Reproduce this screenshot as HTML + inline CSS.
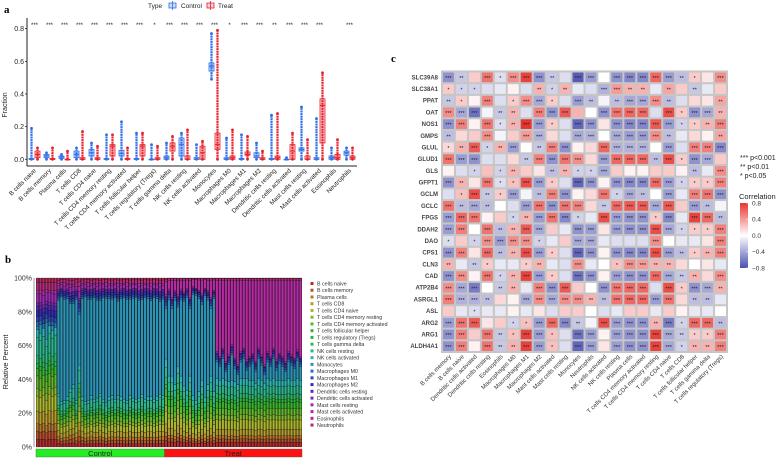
<!DOCTYPE html>
<html><head><meta charset="utf-8"><style>
body{margin:0;background:#fff;}
svg{display:block;font-family:"Liberation Sans",sans-serif;}
</style></head><body>
<svg id="fig" width="784" height="459" viewBox="0 0 784 459" xmlns="http://www.w3.org/2000/svg">
<text x="4" y="13" font-family="Liberation Serif" font-weight="bold" font-size="11">a</text>
<text x="5" y="263" font-family="Liberation Serif" font-weight="bold" font-size="11">b</text>
<text x="391" y="62" font-family="Liberation Serif" font-weight="bold" font-size="11">c</text>
<g id="pa"></g>
<g id="pb"></g>
<g id="pc"></g>
</svg>
<script>
const NS="http://www.w3.org/2000/svg";
function mk(p,t,a){const e=document.createElementNS(NS,t);for(const k in a)e.setAttribute(k,a[k]);p.appendChild(e);return e;}
function tx(p,x,y,s,a){const e=mk(p,'text',Object.assign({x:x,y:y},a||{}));e.textContent=s;return e;}

// ---------- Panel a data ----------
const cellTypes=["B cells naive","B cells memory","Plasma cells","T cells CD8","T cells CD4 naive","T cells CD4 memory resting","T cells CD4 memory activated","T cells follicular helper","T cells regulatory (Tregs)","T cells gamma delta","NK cells resting","NK cells activated","Monocytes","Macrophages M0","Macrophages M1","Macrophages M2","Dendritic cells resting","Dendritic cells activated","Mast cells resting","Mast cells activated","Eosinophils","Neutrophils"];
const ctrlMed=[0,0.02,0.015,0.03,0.04,0,0.035,0,0,0.01,0.09,0,0.57,0,0,0.02,0,0,0.06,0,0.01,0.04];
const ctrlQ1=[0,0.01,0.005,0.01,0.02,0,0.02,0,0,0,0.02,0,0.54,0,0,0.01,0,0,0.05,0,0,0.025];
const ctrlQ3=[0.005,0.03,0.02,0.05,0.06,0.005,0.055,0.005,0,0.02,0.13,0.01,0.59,0.01,0.005,0.04,0.005,0,0.07,0.01,0.02,0.05];
const ctrlMin=[0,0,0,0,0,0,0,0,0,0,0,0,0.49,0,0,0,0,0,0,0,0,0];
const ctrlMax=[0.19,0.04,0.03,0.07,0.1,0.15,0.23,0.16,0.09,0.1,0.16,0.09,0.77,0.13,0.15,0.1,0.27,0.01,0.32,0.25,0.07,0.07];
const trtMed=[0.03,0,0,0,0,0.08,0,0.08,0,0.08,0,0.04,0.09,0.01,0.03,0,0.01,0.05,0,0.33,0.01,0.01];
const trtQ1=[0.01,0,0,0,0,0.02,0,0.02,0,0.05,0,0,0.06,0,0.025,0,0,0,0,0.1,0,0];
const trtQ3=[0.05,0.005,0,0.01,0.01,0.09,0.005,0.09,0.01,0.1,0.02,0.08,0.16,0.02,0.045,0.01,0.02,0.09,0.02,0.37,0.03,0.02];
const trtMin=[0,0,0,0,0,0,0,0,0,0,0,0,0,0,0,0,0,0,0,0,0,0];
const trtMax=[0.07,0.07,0.05,0.17,0.08,0.15,0.07,0.16,0.08,0.14,0.18,0.11,0.79,0.18,0.14,0.05,0.28,0.16,0.12,0.53,0.12,0.07];
const sigA=["***","***","***","***","***","***","***","***","*","***","***","***","***","*","***","***","**","***","***","***","","***"];
const yTicksA=[0,0.2,0.4,0.6,0.8];

(function(){
const g=document.getElementById('pa');
const x0=27,x1=357,yTop=18,yBot=166;
const ya=v=>159.3-163.3*v;
const step=(x1-x0)/cellTypes.length;
const xc=i=>x0+step*(i+0.5);
mk(g,'line',{x1:x0,y1:yTop,x2:x0,y2:yBot,stroke:'#222','stroke-width':1});
const xa=mk(g,'line',{x1:x0,y1:yBot,x2:x1,y2:yBot,stroke:'#222','stroke-width':1});

yTicksA.forEach(v=>{
  mk(g,'line',{x1:x0-2,y1:ya(v),x2:x0,y2:ya(v),stroke:'#222','stroke-width':0.8});
  const t=tx(g,x0-3,ya(v)+2.5,v.toFixed(1),{'font-size':7,'text-anchor':'end',fill:'#222'});
  
});
const yt=tx(g,0,0,'Fraction',{'font-size':7,'text-anchor':'middle',transform:'translate(7,105) rotate(-90)',fill:'#222'});

function box(i,off,col,fill,med,q1,q3,mn,mx,name){
  const cx=xc(i)+off,w=5;
  const bg=mk(g,'g',{});
  
  mk(bg,'line',{x1:cx,y1:ya(mn),x2:cx,y2:ya(mx),stroke:col,'stroke-width':2.2,'stroke-dasharray':'2 0.6'});
  mk(bg,'rect',{x:cx-w/2,y:ya(q3),width:w,height:Math.max(0.6,ya(q1)-ya(q3)),fill:fill,stroke:col,'stroke-width':0.8});
  mk(bg,'line',{x1:cx-w/2,y1:ya(med),x2:cx+w/2,y2:ya(med),stroke:col,'stroke-width':1});
  mk(bg,'circle',{cx:cx,cy:ya(mx),r:1.4,fill:col});
  mk(bg,'circle',{cx:cx,cy:ya(mn),r:1.4,fill:col});
}
cellTypes.forEach((c,i)=>{
  box(i,-3,'#2f6fe8','rgba(47,111,232,0.25)',ctrlMed[i],ctrlQ1[i],ctrlQ3[i],ctrlMin[i],ctrlMax[i],'box-control');
  box(i,3,'#e8202a','rgba(232,32,42,0.2)',trtMed[i],trtQ1[i],trtQ3[i],trtMin[i],trtMax[i],'box-treat');
  const s=tx(g,xc(i),27,sigA[i],{'font-size':6,'text-anchor':'middle',fill:'#222'});
  
  const l=tx(g,0,0,c,{'font-size':6.3,'text-anchor':'end',fill:'#222',transform:`translate(${xc(i)+2},${yBot+5}) rotate(-45)`});
  
});
// legend
const lg=mk(g,'g',{});

tx(lg,148,8,'Type',{'font-size':6.5,fill:'#222'});
mk(lg,'rect',{x:169,y:3,width:7,height:5,fill:'rgba(47,111,232,0.25)',stroke:'#2f6fe8','stroke-width':0.8});
mk(lg,'line',{x1:172.5,y1:1,x2:172.5,y2:10,stroke:'#2f6fe8','stroke-width':0.8});
tx(lg,181,8,'Control',{'font-size':6.5,fill:'#222'});
mk(lg,'rect',{x:207,y:3,width:7,height:5,fill:'rgba(232,32,42,0.2)',stroke:'#e8202a','stroke-width':0.8});
mk(lg,'line',{x1:210.5,y1:1,x2:210.5,y2:10,stroke:'#e8202a','stroke-width':0.8});
tx(lg,218,8,'Treat',{'font-size':6.5,fill:'#222'});
})();

// ---------- Panel b data ----------
const ctrlMono=[0.02,0.05,0.0,0.1,0.0,0.03,0.0,0.55,0.62,0.6,0.58,0.5,0.48,0.6,0.3,0.58,0.62,0.6,0.57,0.6,0.58,0.55,0.6,0.62,0.58,0.57,0.6,0.56,0.58,0.6,0.6,0.57,0.59,0.6,0.58,0.56,0.6,0.58,0.57,0.6,0.58,0.55,0.57];
const ctrlMast=[0.02,0.02,0.03,0.02,0.01,0.02,0.02,0.01,0.01,0.02,0.01,0.02,0.01,0.02,0.03,0.01,0.01,0.02,0.01,0.01,0.02,0.01,0.01,0.02,0.01,0.01,0.01,0.02,0.01,0.01,0.02,0.01,0.01,0.01,0.02,0.01,0.01,0.01,0.02,0.01,0.01,0.02,0.01];
const trtMono=[0.3,0.45,0.4,0.5,0.35,0.45,0.5,0.55,0.4,0.6,0.62,0.55,0.45,0.6,0.5,0.4,0.55,0.1,0.08,0.12,0.05,0.1,0.15,0.08,0.06,0.1,0.12,0.05,0.08,0.1,0.07,0.12,0.09,0.05,0.1,0.08,0.12,0.06,0.1,0.08,0.05,0.1,0.09,0.07,0.11,0.08];
const trtMast=[0.08,0.05,0.1,0.06,0.08,0.05,0.07,0.05,0.1,0.04,0.05,0.06,0.08,0.05,0.06,0.1,0.06,0.42,0.45,0.4,0.48,0.44,0.38,0.46,0.5,0.42,0.4,0.47,0.45,0.43,0.48,0.4,0.44,0.5,0.42,0.45,0.4,0.47,0.43,0.45,0.48,0.42,0.44,0.46,0.41,0.45];
const baseCtrl=[0.05,0.05,0.05,0.08,0.1,0.05,0.08,0.05,0.03,0.05,0.12,0.05,0,0.03,0.03,0.04,0.03,0.02,0.06,0,0.05,0.03];
const baseTrt=[0.06,0.04,0.04,0.08,0.12,0.06,0.08,0.08,0.04,0.06,0.1,0.08,0,0.03,0.03,0.03,0.01,0.01,0.02,0,0.02,0.01];
const yTicksB=[0,20,40,60,80,100];

(function(){
const g=document.getElementById('pb');
const x0=36,x1=302,yT=278,yB=447;
const n=ctrlMono.length+trtMono.length;
const bw=(x1-x0)/n;
const yb=v=>yB-(yB-yT)*v;
const colr=i=>`hsl(${(i*16.2)%360},62%,44%)`;
mk(g,'rect',{x:x0,y:yT,width:x1-x0,height:yB-yT,fill:'#111'});
const samples=[];
ctrlMono.forEach((m,i)=>samples.push([m,ctrlMast[i],baseCtrl]));
trtMono.forEach((m,i)=>samples.push([m,trtMast[i],baseTrt]));
samples.forEach((s,k)=>{
  const [mono,mast,base]=s;
  const rem=1-mono-mast;
  const bsum=base.reduce((a,b)=>a+b,0);
  let acc=0;
  const bar=mk(g,'g',{});
  
  for(let i=0;i<22;i++){
    let f=i===12?mono:i===19?mast:base[i]/bsum*rem;
    if(f<=0)continue;
    mk(bar,'rect',{x:x0+k*bw+0.25,y:yb(acc+f),width:bw-0.5,height:(yB-yT)*f,fill:colr(i),stroke:'#111','stroke-width':0.25});
    acc+=f;
  }
});
mk(g,'line',{x1:x0-2,y1:yT,x2:x0-2,y2:yB,stroke:'#999','stroke-width':1});
yTicksB.forEach(v=>{
  const t=tx(g,x0-4,yb(v/100)+2.5,v+'%',{'font-size':7,'text-anchor':'end',fill:'#333'});
  
});
const yt=tx(g,0,0,'Relative Percent',{'font-size':7.5,'text-anchor':'middle',transform:'translate(8,362) rotate(-90)',fill:'#222'});

const xs=x0+bw*ctrlMono.length;
const gc=mk(g,'rect',{x:x0,y:449,width:xs-x0,height:8,fill:'#22ee22',stroke:'#555','stroke-width':0.4});

const gt=mk(g,'rect',{x:xs,y:449,width:x1-xs,height:8,fill:'#ff1111',stroke:'#555','stroke-width':0.4});

tx(g,(x0+xs)/2,456,'Control',{'font-size':7.5,'text-anchor':'middle',fill:'#222'});
tx(g,(xs+x1)/2,456,'Treat',{'font-size':7.5,'text-anchor':'middle',fill:'#222'});
cellTypes.forEach((c,i)=>{
  const y=284+i*6.74;
  const le=mk(g,'g',{});
  
  mk(le,'rect',{x:310.5,y:y-2,width:3,height:3,fill:colr(i)});
  tx(le,317,y+1.5,c,{'font-size':5.3,fill:'#333'});
});
})();

// ---------- Panel c data ----------
const genes=["SLC39A8","SLC38A1","PPAT","OAT","NOS1","GMPS","GLUL","GLUD1","GLS","GFPT1","GCLM","GCLC","FPGS","DDAH2","DAO","CPS1","CLN3","CAD","ATP2B4","ASRGL1","ASL","ARG2","ARG1","ALDH4A1"];
const immuneCols=["B cells memory","B cells naive","Dendritic cells activated","Dendritic cells resting","Eosinophils","Macrophages M0","Macrophages M1","Macrophages M2","Mast cells activated","Mast cells resting","Monocytes","Neutrophils","NK cells activated","NK cells resting","Plasma cells","T cells CD4 memory activated","T cells CD4 memory resting","T cells CD4 naive","T cells CD8","T cells follicular helper","T cells gamma delta","T cells regulatory (Tregs)"];
const corrVals=[
[-0.5,-0.25,0.2,0.55,-0.15,0.45,0.75,-0.5,-0.25,-0.15,-0.75,-0.45,0,-0.5,-0.55,-0.55,0.6,-0.45,-0.3,0.2,0.1,0.45],
[0.2,-0.2,-0.2,-0.15,-0.1,0.05,-0.15,0.3,-0.2,0.3,-0.1,-0.15,-0.35,0.4,0.3,0.3,-0.1,0.35,0.2,-0.25,-0.1,0.2],
[-0.25,0.2,0.05,0.5,-0.15,0.2,0.45,-0.4,0.2,-0.15,-0.45,-0.3,-0.05,-0.3,-0.4,-0.4,0.45,-0.3,-0.15,0.15,0.1,0.35],
[0.45,-0.4,-0.65,-0.05,-0.25,0.3,-0.15,0.5,-0.5,0.65,0.3,0,-0.5,0.55,0.6,0.6,-0.15,0.7,0.2,-0.5,-0.4,0.3],
[-0.5,0.5,0.05,0.55,-0.15,0.3,0.8,-0.45,0.2,-0.15,-0.7,-0.5,0.1,-0.5,-0.55,-0.55,0.65,-0.45,-0.2,0.2,0.3,0.5],
[-0.3,0.15,0.2,0.45,-0.05,0.2,0.4,-0.35,0.15,-0.15,-0.4,-0.35,0,-0.4,-0.45,-0.45,0.45,-0.3,-0.1,0.15,0.05,0.35],
[0.15,0.3,0.65,-0.2,0.3,-0.45,0,-0.25,0.5,-0.5,0.05,0.15,0.6,-0.35,-0.35,-0.35,0,-0.45,-0.15,0.5,0.5,-0.55],
[0.55,-0.45,-0.5,-0.15,-0.15,0.15,-0.25,0.5,-0.5,0.55,0.45,0.15,-0.45,0.6,0.6,0.6,-0.3,0.7,0.2,-0.5,-0.4,0.2],
[0.05,-0.15,-0.2,0.25,-0.2,0.3,0.2,0.1,-0.3,0.3,-0.2,-0.2,-0.4,0.2,0.05,0.05,0.2,0.2,0.05,-0.3,-0.1,0.45],
[-0.5,0.3,0.1,0.55,-0.15,0.25,0.7,-0.45,0.2,-0.15,-0.7,-0.5,0.05,-0.5,-0.55,-0.55,0.6,-0.45,-0.2,0.2,0.2,0.5],
[-0.15,0.25,0.7,-0.25,0.2,-0.45,-0.05,-0.3,0.5,-0.5,0.05,0.15,0.55,-0.2,-0.4,-0.3,0,-0.45,-0.1,0.5,0.55,-0.5],
[0.55,-0.3,-0.4,-0.3,0,-0.15,-0.45,0.55,-0.5,0.55,0.5,0.15,-0.25,0.6,0.65,0.65,-0.4,0.65,0.2,-0.45,-0.3,-0.05],
[-0.45,0.6,0.55,0.05,0.2,-0.2,0.3,-0.45,0.55,-0.55,-0.2,-0.1,0.7,-0.45,-0.5,-0.5,0.2,-0.55,-0.1,0.75,0.6,-0.3],
[-0.45,0.5,0,0.55,-0.3,0.3,0.65,-0.4,0.2,-0.1,-0.5,-0.45,0.1,-0.45,-0.5,-0.5,0.7,-0.4,-0.2,0.2,0.2,0.5],
[-0.15,0.2,-0.2,0.45,-0.45,0.45,0.45,-0.2,-0.1,0.2,-0.4,-0.4,-0.1,-0.15,-0.15,-0.15,0.45,0,-0.1,-0.1,0.1,0.5],
[-0.5,0.5,0.1,0.6,-0.3,0.3,0.7,-0.45,0.2,-0.15,-0.7,-0.5,0.05,-0.5,-0.55,-0.55,0.7,-0.45,-0.3,0.2,0.3,0.5],
[0.3,-0.1,-0.25,0.2,-0.1,-0.1,0.2,0.3,-0.1,-0.15,0.45,-0.1,0,0.25,0.45,0.4,0.3,0.3,0.15,0,0.1,-0.1],
[-0.5,0.45,0.05,0.55,-0.2,0.3,0.75,-0.45,0.2,-0.15,-0.65,-0.5,0.05,-0.45,-0.5,-0.5,0.6,-0.4,-0.25,0.3,0.15,0.45],
[0.45,-0.4,-0.6,0,-0.25,0.3,-0.1,0.5,-0.5,0.65,0.2,0,-0.5,0.55,0.6,0.6,-0.15,0.7,0.2,-0.5,-0.4,0.3],
[0.5,-0.35,-0.35,-0.3,0.15,0.05,-0.4,0.45,-0.4,0.45,0.45,0.3,-0.3,0.55,0.6,0.6,-0.45,0.55,0.15,-0.3,-0.3,-0.1],
[0.2,-0.1,-0.15,-0.1,-0.1,0.05,-0.1,0.1,-0.15,0.2,0.2,0,-0.15,-0.1,0.2,0.2,-0.1,0.2,0.05,-0.1,-0.1,0],
[-0.45,0.55,0.65,0.1,0.2,-0.2,0.25,-0.45,0.6,-0.55,-0.25,-0.05,0.7,-0.45,-0.5,-0.5,0.3,-0.6,-0.2,0.6,0.6,-0.3],
[-0.5,0.5,0.2,0.55,-0.25,0.25,0.75,-0.45,0.25,-0.15,-0.65,-0.45,0.05,-0.45,-0.5,-0.5,0.75,-0.4,-0.25,0.2,0.2,0.5],
[-0.5,0.5,0.05,0.55,-0.25,0.3,0.75,-0.45,0.25,-0.15,-0.7,-0.45,0.1,-0.45,-0.5,-0.5,0.75,-0.4,-0.2,0.3,0.3,0.5]];
const corrStars=[
"3,2,0,3,1,3,3,3,2,0,3,3,0,3,3,3,3,3,2,1,0,3",
"1,1,1,0,0,0,0,2,1,2,0,0,3,3,2,2,0,2,0,2,0,0",
"2,1,0,3,0,1,3,3,1,0,3,2,0,2,3,3,3,2,0,0,0,2",
"3,3,3,0,2,2,0,3,3,3,0,0,3,3,3,3,0,3,1,3,3,2",
"3,3,0,3,1,2,3,3,1,0,3,3,0,3,3,3,3,3,1,1,2,3",
"2,0,0,3,0,0,3,3,0,0,3,3,0,3,3,3,3,2,0,0,0,2",
"1,2,3,1,2,3,0,2,3,3,0,0,3,3,3,3,0,3,0,3,3,3",
"3,3,3,0,0,0,2,3,3,3,3,0,3,3,3,3,2,3,1,3,3,0",
"0,0,1,0,1,2,0,0,2,2,1,1,3,0,0,0,0,0,0,2,0,3",
"3,2,0,3,1,1,3,3,1,0,3,3,0,3,3,3,3,3,1,1,1,3",
"0,1,3,2,1,3,0,2,3,3,0,0,3,1,3,2,0,3,0,3,3,3",
"3,2,3,2,0,0,3,3,3,3,3,0,2,3,3,3,3,3,0,3,2,0",
"3,3,3,0,0,1,2,3,3,3,1,0,3,3,3,3,1,3,0,3,3,2",
"3,3,0,3,2,2,3,3,0,0,3,3,0,3,3,3,3,3,1,1,1,3",
"1,0,1,3,3,3,3,1,0,0,3,3,0,0,0,0,3,0,0,0,0,3",
"3,3,0,3,2,2,3,3,1,0,3,3,0,3,3,3,3,3,2,1,2,3",
"2,0,2,1,0,0,1,2,0,0,3,0,0,1,3,3,2,2,0,0,0,0",
"3,3,0,3,1,2,3,3,1,0,3,3,0,3,3,3,3,3,2,2,0,3",
"3,3,3,0,2,2,0,3,3,3,0,0,3,3,3,3,0,3,1,3,3,2",
"3,3,3,2,0,0,3,3,3,3,3,2,2,3,3,3,3,3,0,2,2,0",
"0,0,1,0,0,0,0,0,0,0,0,0,0,0,0,0,0,0,0,0,0,0",
"3,3,3,0,0,1,1,3,3,3,2,0,3,3,3,3,2,3,1,3,3,2",
"3,3,0,3,2,1,3,3,1,0,3,3,0,3,3,3,3,3,2,1,1,3",
"3,3,0,3,2,2,3,3,1,0,3,3,0,3,3,3,3,3,1,2,2,3"];
const legendTicksC=[0.8,0.4,0,-0.4,-0.8];

(function(){
const g=document.getElementById('pc');
const x0=442,x1=727,y0=71.5,y1=352;
const cw=(x1-x0)/immuneCols.length, ch=(y1-y0)/genes.length;
function col(v){
  const t=Math.max(-1,Math.min(1,v/0.8));
  const w=[255,255,255];
  const c=t>=0?[232,52,46]:[76,80,176];
  const a=Math.abs(t);
  return `rgb(${Math.round(w[0]+(c[0]-w[0])*a)},${Math.round(w[1]+(c[1]-w[1])*a)},${Math.round(w[2]+(c[2]-w[2])*a)})`;
}
mk(g,'rect',{x:x0-1,y:y0-1,width:x1-x0+2,height:y1-y0+2,fill:'#c6c6c6'});
genes.forEach((gn,r)=>{
  const st=corrStars[r].split(',').map(Number);
  const l=tx(g,x0-4,y0+ch*(r+0.5)+2,gn,{'font-size':6,'font-weight':'bold','text-anchor':'end',fill:'#444'});
  
  immuneCols.forEach((c,k)=>{
    const cell=mk(g,'rect',{x:x0+k*cw+1,y:y0+r*ch+1,width:cw-2,height:ch-2,fill:col(corrVals[r][k])});
    
    if(st[k]>0){tx(g,x0+(k+0.5)*cw,y0+(r+0.5)*ch+2.6,'*'.repeat(st[k]),{'font-size':5.5,'text-anchor':'middle',fill:'#222'});}
  });
});
immuneCols.forEach((c,k)=>{
  const l=tx(g,0,0,c,{'font-size':6,'text-anchor':'end',fill:'#333',transform:`translate(${x0+(k+0.5)*cw+3},${y1+5}) rotate(-45)`});
  
});
const lg=mk(g,'g',{});

tx(lg,740,160,'***  p<0.001',{'font-size':7,fill:'#222'});
tx(lg,740,169,'**   p<0.01',{'font-size':7,fill:'#222'});
tx(lg,740,178,' *   p<0.05',{'font-size':7,fill:'#222'});
const cb=mk(g,'g',{});

tx(cb,739,199,'Correlation',{'font-size':7.5,fill:'#222'});
const defs=mk(g,'defs',{});
const gr=mk(defs,'linearGradient',{id:'cg',x1:0,y1:0,x2:0,y2:1});
mk(gr,'stop',{offset:'0%','stop-color':col(0.8)});
mk(gr,'stop',{offset:'50%','stop-color':'#ffffff'});
mk(gr,'stop',{offset:'100%','stop-color':col(-0.8)});
const cbY0=203,cbY1=268;
mk(cb,'rect',{x:740,y:cbY0,width:8,height:cbY1-cbY0,fill:'url(#cg)'});
legendTicksC.forEach(v=>{
  const y=cbY0+(0.8-v)/1.6*(cbY1-cbY0);
  mk(cb,'line',{x1:746,y1:y,x2:748,y2:y,stroke:'#fff','stroke-width':0.6});
  tx(cb,752,y+2.3,(v<0?'\u2212':'')+Math.abs(v).toFixed(1),{'font-size':6.5,fill:'#333'});
});
})();
</script>
</body></html>
